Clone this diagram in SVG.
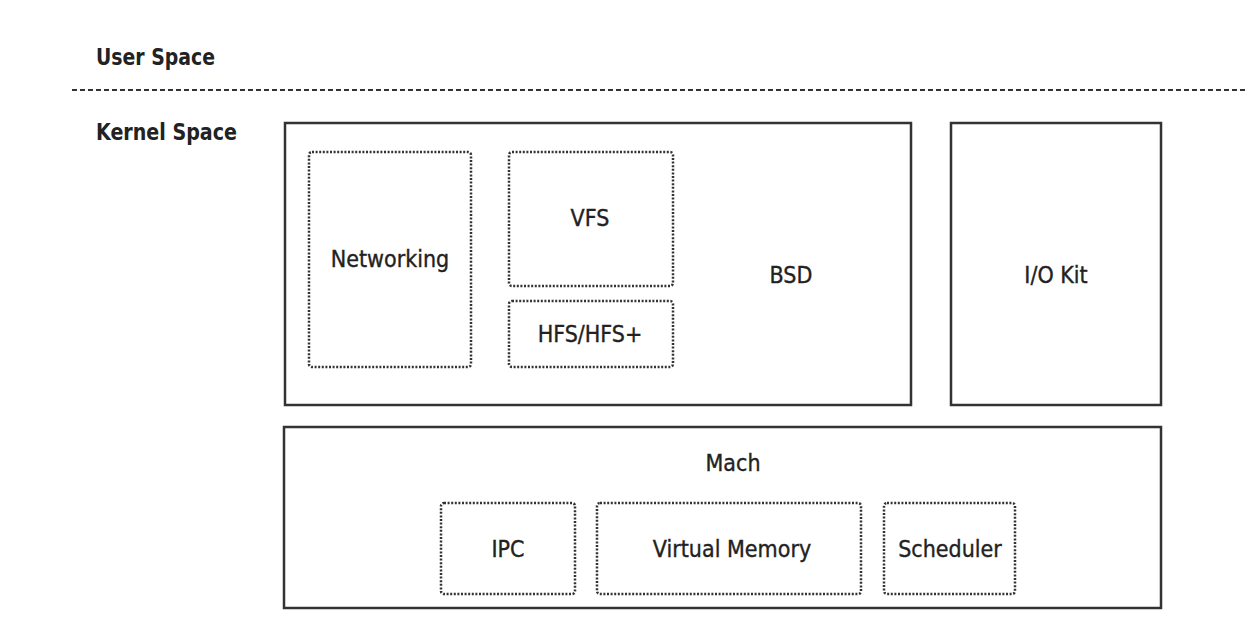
<svg xmlns="http://www.w3.org/2000/svg" width="1246" height="638" viewBox="0 0 1246 638">
<style>
.t{font-family:"DejaVu Sans Condensed","Liberation Sans Narrow","Liberation Sans",sans-serif;font-size:23px;fill:#222;stroke:#222;stroke-width:0.35;text-anchor:middle;dominant-baseline:central}
.h{font-family:"DejaVu Sans Condensed","Liberation Sans Narrow","Liberation Sans",sans-serif;font-size:23px;font-weight:bold;fill:#222}
.box{fill:none;stroke:#333;stroke-width:2.5}
.dot{fill:none;stroke:#333;stroke-width:2.5;stroke-dasharray:2 1.6}
</style>
<rect width="1246" height="638" fill="#fff"/>
<g id="labels">
<text class="h" x="96" y="65" textLength="119" lengthAdjust="spacingAndGlyphs">User Space</text>
<text class="h" x="96" y="140" textLength="141" lengthAdjust="spacingAndGlyphs">Kernel Space</text>
</g>
<g id="divider">
<line x1="72" y1="90" x2="1246" y2="90" stroke="#333" stroke-width="2.2" stroke-dasharray="5 3"/>
</g>
<g id="bsd">
<rect class="box" x="285" y="123" width="626" height="282"/>
<text class="t" x="791" y="275">BSD</text>
</g>
<g id="networking">
<rect class="dot" x="309" y="152" width="162" height="215" rx="3"/>
<text class="t" x="390" y="259">Networking</text>
</g>
<g id="vfs">
<rect class="dot" x="509" y="152" width="164" height="134" rx="3"/>
<text class="t" x="590" y="218">VFS</text>
</g>
<g id="hfs">
<rect class="dot" x="509" y="301" width="164" height="66" rx="3"/>
<text class="t" x="590" y="334">HFS/HFS+</text>
</g>
<g id="iokit">
<rect class="box" x="951" y="123" width="210" height="282"/>
<text class="t" x="1056" y="275">I/O Kit</text>
</g>
<g id="mach">
<rect class="box" x="284" y="427" width="877" height="181"/>
<text class="t" x="733" y="463">Mach</text>
</g>
<g id="ipc">
<rect class="dot" x="441" y="503" width="134" height="91" rx="3"/>
<text class="t" x="508" y="549">IPC</text>
</g>
<g id="vm">
<rect class="dot" x="597" y="503" width="264" height="91" rx="3"/>
<text class="t" x="732" y="549">Virtual Memory</text>
</g>
<g id="scheduler">
<rect class="dot" x="884" y="503" width="131" height="91" rx="3"/>
<text class="t" x="950" y="549">Scheduler</text>
</g>
<g id="connectors"></g>
</svg>
